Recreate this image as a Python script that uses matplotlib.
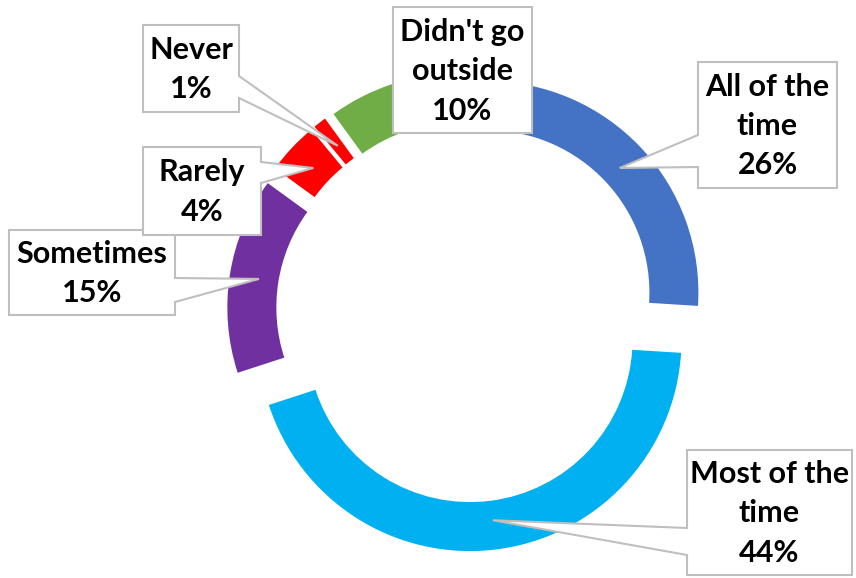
import matplotlib
matplotlib.use("Agg")
import matplotlib.pyplot as plt
from matplotlib.patches import Polygon
import numpy as np

# Survey answers (clockwise from 12 o'clock)
categories = ["All of the\ntime", "Most of the\ntime", "Sometimes", "Rarely", "Never", "Didn't go\noutside"]
shares = [26, 44, 15, 4, 1, 10]
colors = ["#4472C4", "#00B0F0", "#7030A0", "#FF0000", "#FF0000", "#70AD47"]

W, H = 856, 578
plt.rcParams["font.family"] = ["Lato", "DejaVu Sans"]

fig = plt.figure(figsize=(W / 100, H / 100), dpi=100)
ax = fig.add_axes([0, 0, 1, 1])

# ring geometry in pixel units (y measured upward)
CX, CY = 466.5, H - 311.8
RADIUS = 211.5
RING = 49
OFFSET = 28

wedges, _ = ax.pie(
    shares, colors=colors, startangle=90, counterclock=False,
    center=(CX, CY), radius=RADIUS, explode=[OFFSET] * len(shares),
    wedgeprops=dict(width=RING, linewidth=0), frame=False,
)
ax.set_xlim(0, W)
ax.set_ylim(0, H)
ax.set_aspect("equal")
ax.axis("off")

# callout boxes: (x0, y0, x1, y1) from top-left, pointer side, pointer base span
callouts = [
    ((698, 62, 837, 188), "left", (135, 167)),
    ((687, 450, 852, 575), "left", (528, 555)),
    ((9, 230, 175, 315), "right", (278, 302)),
    ((143, 147, 261, 235), "right", (162, 183)),
    ((143, 25, 239, 112), "right", (76, 98)),
    ((393, 7, 532, 133), None, None),
]


def wedge_anchor(w):
    th = np.deg2rad((w.theta1 + w.theta2) / 2)
    rr = w.r - w.width * 0.6
    return (w.center[0] + rr * np.cos(th), w.center[1] + rr * np.sin(th))


for i, (w, cat, val, (box, side, base)) in enumerate(zip(wedges, categories, shares, callouts)):
    x0, y0, x1, y1 = box
    Y = lambda y: H - y
    if side == "right":
        tip = wedge_anchor(w)
        verts = [(x0, Y(y0)), (x1, Y(y0)), (x1, Y(base[0])), tip,
                 (x1, Y(base[1])), (x1, Y(y1)), (x0, Y(y1))]
    elif side == "left":
        tip = wedge_anchor(w)
        verts = [(x0, Y(y0)), (x1, Y(y0)), (x1, Y(y1)), (x0, Y(y1)),
                 (x0, Y(base[1])), tip, (x0, Y(base[0]))]
    else:
        verts = [(x0, Y(y0)), (x1, Y(y0)), (x1, Y(y1)), (x0, Y(y1))]
    ax.add_patch(Polygon(verts, closed=True, facecolor="white",
                         edgecolor="#BFBFBF", linewidth=1.5, zorder=3 + i * 0.1))
    ax.text((x0 + x1) / 2, Y((y0 + y1) / 2) - 1, f"{cat}\n{val}%",
            ha="center", va="center", multialignment="center",
            fontsize=22, fontweight="bold", color="black",
            linespacing=1.5, zorder=3.05 + i * 0.1)

fig.savefig("out.png", dpi=100)
